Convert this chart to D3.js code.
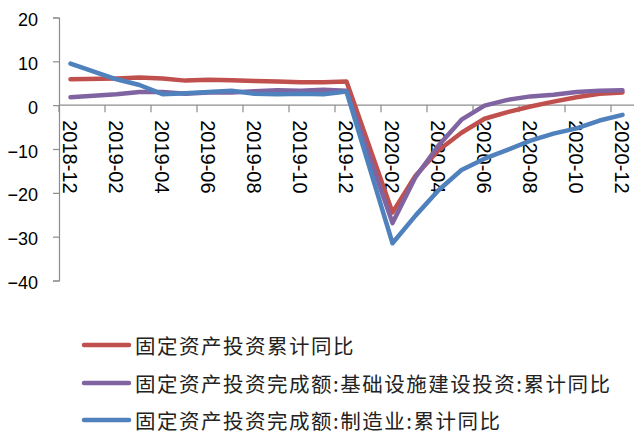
<!DOCTYPE html>
<html>
<head>
<meta charset="utf-8">
<script src="https://cdn.jsdelivr.net/npm/d3@7"></script>
<style>
html,body{margin:0;padding:0;background:#fff;}
svg{display:block;}
</style>
</head>
<body>
<svg id="chart" width="634" height="436"></svg>
<script>
const categories = ["2018-12","2019-01","2019-02","2019-03","2019-04","2019-05","2019-06","2019-07","2019-08","2019-09","2019-10","2019-11","2019-12",
  "2020-01","2020-02","2020-03","2020-04","2020-05","2020-06","2020-07","2020-08","2020-09","2020-10","2020-11","2020-12"];
const fixedInvest = [5.9,null,6.1,6.3,6.1,5.6,5.8,5.7,5.5,5.4,5.2,5.2,5.4,
  null,-24.5,-16.1,-10.3,-6.3,-3.1,-1.6,-0.3,0.8,1.8,2.6,2.9];
const infraInvest = [1.8,null,2.5,3.0,3.0,2.6,2.9,2.9,3.2,3.4,3.3,3.5,3.3,
  null,-26.9,-16.4,-9.2,-3.3,-0.1,1.2,2.0,2.4,3.0,3.3,3.4];
const manufInvest = [9.5,null,5.9,4.6,2.5,2.7,3.0,3.3,2.6,2.5,2.6,2.5,3.1,
  null,-31.5,-25.2,-19.4,-14.8,-12.2,-10.2,-8.1,-6.5,-5.3,-3.5,-2.2];
const seriesNames = ["固定资产投资累计同比","固定资产投资完成额:基础设施建设投资:累计同比","固定资产投资完成额:制造业:累计同比"];
const seriesColors = ["#C0504D","#8064A2","#4F81BD"];
const yTicks = [20,10,0,-10,-20,-30,-40];

const svg = d3.select("#chart");
const x = d3.scaleBand().domain(categories).range([59,634]).padding(0);
const y = d3.scaleLinear().domain([-40,20]).range([280.5,17.5]);
const axisColor = "#8C8C8C";

// Y axis
const yAxis = d3.axisLeft(y).tickValues(yTicks).tickSize(6).tickPadding(15).tickFormat(d3.format("d"));
const gy = svg.append("g").attr("transform","translate(59,0)").call(yAxis);
gy.select(".domain").attr("stroke",axisColor).attr("stroke-width",1.2);
gy.selectAll(".tick line").attr("stroke",axisColor).attr("stroke-width",1.2);
gy.selectAll(".tick text").attr("font-family","'Liberation Sans', Arial, sans-serif")
  .attr("font-size",18).attr("fill","#000").attr("dy","0.45em");

// X axis at y=0
const y0 = y(0);
svg.append("line").attr("x1",x.range()[0]).attr("x2",x.range()[1]).attr("y1",y0).attr("y2",y0)
  .attr("stroke",axisColor).attr("stroke-width",1.2);
const tickCats = categories.filter((c,i)=>i%2===0);
svg.append("g").selectAll("line").data(tickCats).join("line")
  .attr("x1",d=>x(d)).attr("x2",d=>x(d)).attr("y1",y0).attr("y2",y0+7)
  .attr("stroke",axisColor).attr("stroke-width",1.2);
svg.append("g").selectAll("text").data(tickCats).join("text")
  .attr("transform",d=>`translate(${x(d)+x.bandwidth()/2 - 1},${y0+15}) rotate(90)`)
  .attr("text-anchor","start").attr("dominant-baseline","central")
  .attr("font-family","'Liberation Sans', Arial, sans-serif").attr("font-size",20).attr("fill","#000")
  .text(d=>d);

// Lines
const allSeries = [fixedInvest, infraInvest, manufInvest];
const line = d3.line().x(d=>x(d.c)+x.bandwidth()/2).y(d=>y(d.v)).curve(d3.curveLinear);
allSeries.forEach((vals,si)=>{
  const pts = categories.map((c,i)=>({c, v: vals[i]})).filter(d=>d.v!==null);
  svg.append("path").datum(pts).attr("d",line).attr("fill","none")
    .attr("stroke",seriesColors[si]).attr("stroke-width",4.5)
    .attr("stroke-linejoin","round").attr("stroke-linecap","round");
});

// Legend
const legY = [345,383,420];
const leg = svg.append("g").selectAll("g").data(seriesNames).join("g")
  .attr("transform",(d,i)=>`translate(0,${legY[i]})`);
leg.append("line").attr("x1",84).attr("x2",129).attr("y1",0).attr("y2",0)
  .attr("stroke",(d,i)=>seriesColors[i]).attr("stroke-width",4.5).attr("stroke-linecap","round");
leg.append("text").attr("x",135).attr("y",0).attr("dominant-baseline","central")
  .attr("font-family","'Noto Sans CJK SC', sans-serif").attr("font-size",20.5).attr("letter-spacing",1.5)
  .attr("fill","#222")
  .text(d=>d);
</script>
</body>
</html>
